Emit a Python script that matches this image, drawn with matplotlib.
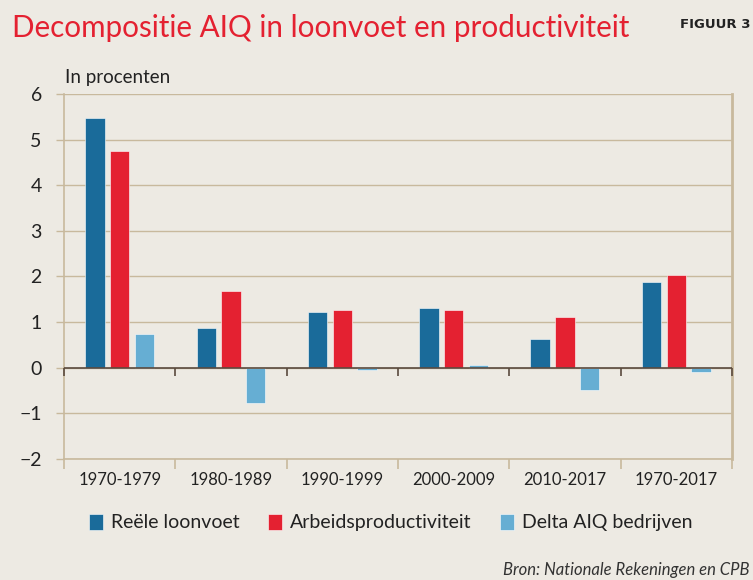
import matplotlib
matplotlib.use("Agg")
import matplotlib.pyplot as plt
import numpy as np

categories = ["1970-1979", "1980-1989", "1990-1999", "2000-2009", "2010-2017", "1970-2017"]
series_names = ["Reële loonvoet", "Arbeidsproductiviteit", "Delta AIQ bedrijven"]
loonvoet = [5.48, 0.88, 1.23, 1.32, 0.63, 1.89]
productiviteit = [4.76, 1.69, 1.27, 1.26, 1.12, 2.03]
delta_aiq = [0.73, -0.77, -0.04, 0.06, -0.49, -0.10]
yticks = [6, 5, 4, 3, 2, 1, 0, -1, -2]
ytick_labels = ["6", "5", "4", "3", "2", "1", "0", "\u22121", "\u22122"]

colors = ["#1a6b9a", "#e42131", "#66aed3"]
bg = "#edeae3"
grid_c = "#c8b99d"
dark = "#5a4a3e"

FONT = ["Lato", "DejaVu Sans"]
plt.rcParams["font.family"] = FONT

fig = plt.figure(figsize=(7.53, 5.80), dpi=100, facecolor=bg)
ax = fig.add_axes([0.085, 0.2086, 0.887, 0.6294], facecolor=bg)

x = np.arange(len(categories)) + 0.5
offsets = [-0.222, 0.0, 0.222]
width = 0.175
handles = []
for vals, off, c, name in zip([loonvoet, productiviteit, delta_aiq], offsets, colors, series_names):
    h = ax.bar(x + off, vals, width=width, color=c, label=name, zorder=3,
               edgecolor="white", linewidth=0.4)
    handles.append(h)

ax.set_xlim(0, 6)
ax.set_ylim(-2, 6)
ax.set_yticks(yticks)
ax.set_yticklabels(ytick_labels, fontsize=14, color="#222222")
ax.yaxis.grid(True, color=grid_c, linewidth=1.0, zorder=0)
ax.axhline(0, color=dark, linewidth=1.2, zorder=4)

# x ticks at group boundaries
ax.set_xticks(np.arange(0, 7))
ax.set_xticklabels([])
ax.set_xticks(x, minor=True)
ax.set_xticklabels(categories, minor=True, fontsize=12, color="#222222")
ax.tick_params(axis="x", which="major", length=7, color=grid_c, width=1.2)
ax.tick_params(axis="x", which="minor", length=0, pad=9)
ax.tick_params(axis="y", length=6, color=grid_c, width=1.0, pad=10)
# dark ticks below zero line
ax.vlines(np.arange(0, 7), -0.17, 0, color=dark, linewidth=1.2, zorder=4, clip_on=False)

ax.spines["top"].set_visible(False)
for s in ["left", "right", "bottom"]:
    ax.spines[s].set_color(grid_c)
ax.spines["left"].set_linewidth(1.2)
ax.spines["right"].set_linewidth(2.0)
ax.spines["bottom"].set_linewidth(1.2)

fig.text(0.016, 0.951, "Decompositie AIQ in loonvoet en productiviteit", color="#e42131",
         fontsize=21.3, va="center", ha="left")
fig.text(0.997, 0.957, "FIGUUR 3", fontsize=9.5, fontweight="bold", color="#222222",
         ha="right", va="center", family=["DejaVu Sans"])
fig.text(0.086, 0.867, "In procenten", fontsize=13.5, color="#222222", va="center", ha="left")

leg = fig.legend(handles=handles, labels=series_names, loc="center", ncol=3,
                 bbox_to_anchor=(0.519, 0.099), frameon=False, fontsize=14,
                 handlelength=0.7, handleheight=0.9, handletextpad=0.4, columnspacing=1.5)
for t in leg.get_texts():
    t.set_color("#222222")

fig.text(0.996, 0.017, "Bron: Nationale Rekeningen en CPB", fontsize=12, style="italic",
         color="#333333", ha="right", va="center")

fig.savefig("out.png", dpi=100, facecolor=bg)
